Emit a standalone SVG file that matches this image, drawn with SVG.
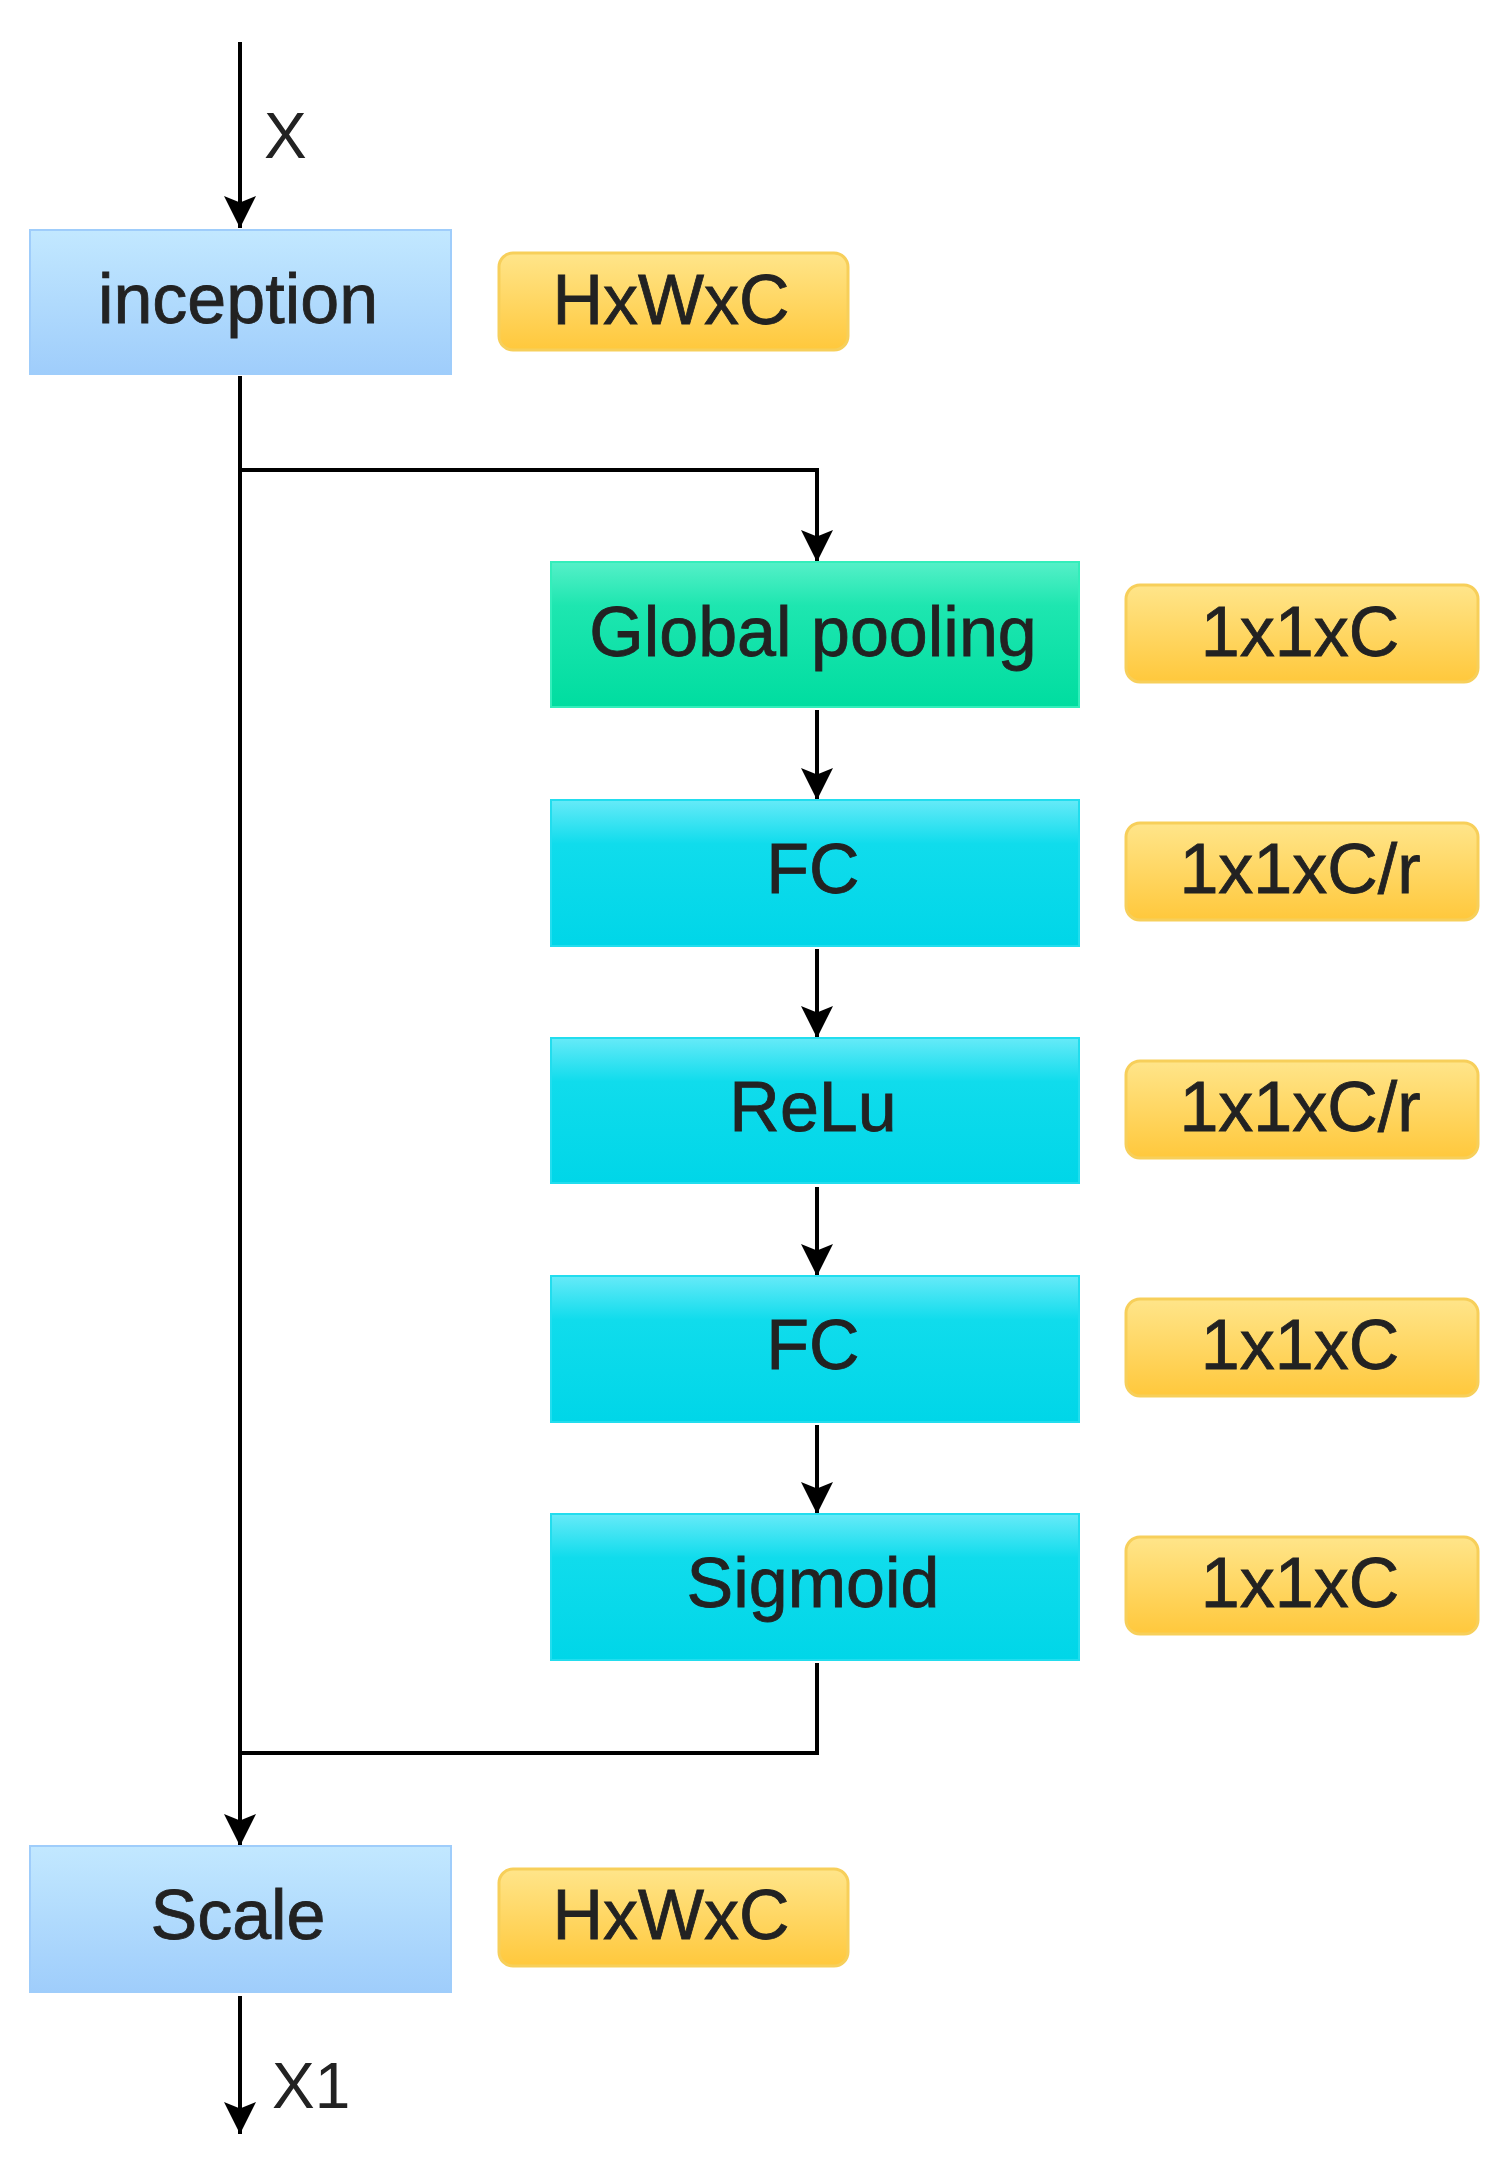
<svg xmlns="http://www.w3.org/2000/svg" width="1512" height="2164" viewBox="0 0 1512 2164">
<defs>
<linearGradient id="gBlue" x1="0" y1="0" x2="0" y2="1"><stop offset="0" stop-color="#c2e8ff"/><stop offset="1" stop-color="#9fcdfb"/></linearGradient>
<linearGradient id="gGreen" x1="0" y1="0" x2="0" y2="1"><stop offset="0" stop-color="#55f0c8"/><stop offset="0.3" stop-color="#1ee6b0"/><stop offset="1" stop-color="#00dda0"/></linearGradient>
<linearGradient id="gCyan" x1="0" y1="0" x2="0" y2="1"><stop offset="0" stop-color="#66eaf8"/><stop offset="0.3" stop-color="#10dcec"/><stop offset="1" stop-color="#00d6e8"/></linearGradient>
<linearGradient id="gYel" x1="0" y1="0" x2="0" y2="1"><stop offset="0" stop-color="#ffe58a"/><stop offset="1" stop-color="#ffc83c"/></linearGradient>
<marker id="arrB" viewBox="0 0 10 10" refX="10" refY="5" markerWidth="32" markerHeight="32" markerUnits="userSpaceOnUse" orient="auto"><path d="M0,0 L10,5 L0,10 L2,5 Z" fill="#000"/></marker>
</defs>
<style>
.t{font-family:"Liberation Sans",Arial,sans-serif;font-size:70px;fill:#222;stroke:#222;stroke-width:0.8;text-anchor:middle;dominant-baseline:central}
.l{font-family:"Liberation Sans",Arial,sans-serif;font-size:64px;fill:#222}
.c{fill:none;stroke:#000;stroke-width:4}
.tag{fill:url(#gYel);stroke:#f7cf5a;stroke-width:3}
</style>
<rect width="1512" height="2164" fill="#fff"/>
<g id="connectors">
<path class="c" d="M240,42 V228" marker-end="url(#arrB)"/>
<path class="c" d="M240,376 V1846" marker-end="url(#arrB)"/>
<path class="c" d="M240,470 H817 V562" marker-end="url(#arrB)"/>
<path class="c" d="M817,710 V800" marker-end="url(#arrB)"/>
<path class="c" d="M817,949 V1038" marker-end="url(#arrB)"/>
<path class="c" d="M817,1187 V1276" marker-end="url(#arrB)"/>
<path class="c" d="M817,1425 V1514" marker-end="url(#arrB)"/>
<path class="c" d="M817,1663 V1753 H240"/>
<path class="c" d="M240,1996 V2134" marker-end="url(#arrB)"/>
<text class="l" x="264" y="158">X</text>
<text class="l" x="272" y="2108">X1</text>
</g>
<g id="inception"><rect x="30" y="230" width="421" height="144" fill="url(#gBlue)" stroke="#9fcdfb" stroke-width="2"/><text class="t" x="238" y="299">inception</text></g>
<g id="tag-inception"><rect class="tag" x="499" y="253" width="349" height="97" rx="14"/><text class="t" x="671" y="300">HxWxC</text></g>
<g id="global-pooling"><rect x="551" y="562" width="528" height="145" fill="url(#gGreen)" stroke="#33eebb" stroke-width="2"/><text class="t" x="813" y="632">Global pooling</text></g>
<g id="tag-gp"><rect class="tag" x="1126" y="585" width="352" height="97" rx="14"/><text class="t" x="1300" y="632">1x1xC</text></g>
<g id="fc1"><rect x="551" y="800" width="528" height="146" fill="url(#gCyan)" stroke="#22ddee" stroke-width="2"/><text class="t" x="813" y="869">FC</text></g>
<g id="tag-fc1"><rect class="tag" x="1126" y="823" width="352" height="97" rx="14"/><text class="t" x="1300" y="869">1x1xC/r</text></g>
<g id="relu"><rect x="551" y="1038" width="528" height="145" fill="url(#gCyan)" stroke="#22ddee" stroke-width="2"/><text class="t" x="813" y="1107">ReLu</text></g>
<g id="tag-relu"><rect class="tag" x="1126" y="1061" width="352" height="97" rx="14"/><text class="t" x="1300" y="1107">1x1xC/r</text></g>
<g id="fc2"><rect x="551" y="1276" width="528" height="146" fill="url(#gCyan)" stroke="#22ddee" stroke-width="2"/><text class="t" x="813" y="1345">FC</text></g>
<g id="tag-fc2"><rect class="tag" x="1126" y="1299" width="352" height="97" rx="14"/><text class="t" x="1300" y="1345">1x1xC</text></g>
<g id="sigmoid"><rect x="551" y="1514" width="528" height="146" fill="url(#gCyan)" stroke="#22ddee" stroke-width="2"/><text class="t" x="813" y="1583">Sigmoid</text></g>
<g id="tag-sig"><rect class="tag" x="1126" y="1537" width="352" height="97" rx="14"/><text class="t" x="1300" y="1583">1x1xC</text></g>
<g id="scale"><rect x="30" y="1846" width="421" height="146" fill="url(#gBlue)" stroke="#9fcdfb" stroke-width="2"/><text class="t" x="238" y="1915">Scale</text></g>
<g id="tag-scale"><rect class="tag" x="499" y="1869" width="349" height="97" rx="14"/><text class="t" x="671" y="1915">HxWxC</text></g>
</svg>
